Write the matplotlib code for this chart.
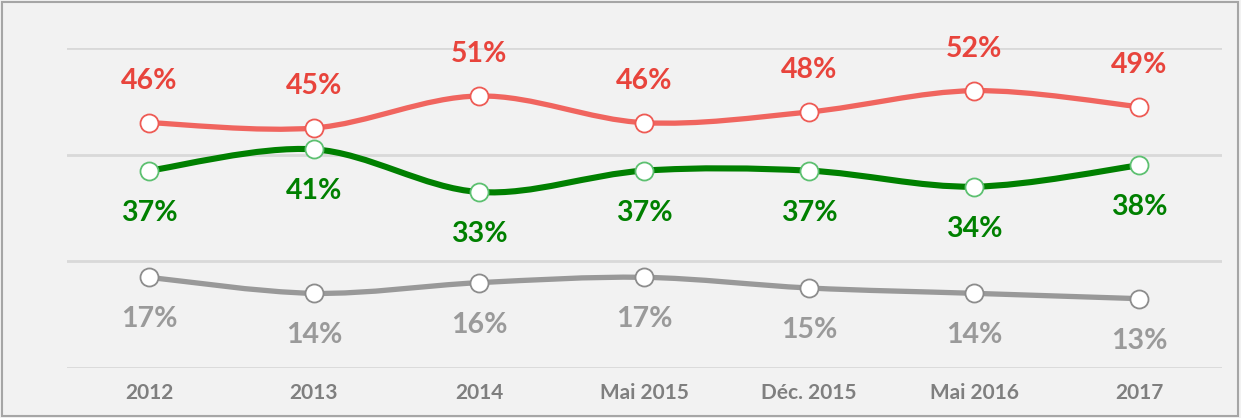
import numpy as np
import matplotlib.pyplot as plt
from matplotlib.path import Path
from matplotlib.patches import PathPatch, Rectangle

categories = ['2012', '2013', '2014', 'Mai 2015', 'Déc. 2015', 'Mai 2016', '2017']
red_vals = [46, 45, 51, 46, 48, 52, 49]
green_vals = [37, 41, 33, 37, 37, 34, 38]
gray_vals = [17, 14, 16, 17, 15, 14, 13]

plt.rcParams['font.family'] = ['Lato', 'DejaVu Sans']


def smooth_path(x, y):
    # cubic bezier through the points, like Excel's smoothed line
    pts = np.column_stack([x, y]).astype(float)
    n = len(pts)
    verts = [pts[0]]
    codes = [Path.MOVETO]
    for i in range(n - 1):
        p0 = pts[i - 1] if i > 0 else pts[i]
        p1 = pts[i]
        p2 = pts[i + 1]
        p3 = pts[i + 2] if i + 2 < n else pts[i + 1]
        c1 = p1 + (p2 - p0) / 6.0
        c2 = p2 - (p3 - p1) / 6.0
        verts += [c1, c2, p2]
        codes += [Path.CURVE4] * 3
    return Path(verts, codes)


fig = plt.figure(figsize=(12.41, 4.18), dpi=100)
fig.patch.set_facecolor('#f2f2f2')
ax = fig.add_axes([66.5 / 1241, 50 / 418, 1155 / 1241, 320 / 418])
ax.set_facecolor('#f2f2f2')

x = np.arange(len(categories))

series = [
    (red_vals, '#f0655f', '#ee5a54', '#e8443c', 1, 3.8),
    (green_vals, '#008000', '#5cc070', '#008000', -1, 4.4),
    (gray_vals, '#999999', '#8c8c8c', '#9a9a9a', -1, 3.8),
]

for vals, lc, mec, tc, side, lw in series:
    ax.add_patch(PathPatch(smooth_path(x, vals), facecolor='none', edgecolor=lc,
                           lw=lw, capstyle='round', zorder=3))
    ax.plot(x, vals, linestyle='none', marker='o', markersize=13,
            markerfacecolor='white', markeredgecolor=mec, markeredgewidth=1.3, zorder=4)
    for xi, v in zip(x, vals):
        ax.annotate(f'{v}%', (xi, v), xytext=(0, 42 * side), textcoords='offset pixels',
                    ha='center', va='center', fontsize=20.5, fontweight='bold', color=tc)

ax.set_xlim(-0.5, len(categories) - 0.5)
ax.set_ylim(0, 60)
ax.set_yticks([0, 20, 40, 60])
ax.yaxis.grid(True, color='#d9d9d9', lw=2)
ax.set_axisbelow(True)
ax.tick_params(axis='y', left=False, labelleft=False)
ax.set_xticks(x)
ax.set_xticklabels(categories, fontsize=15, fontweight='bold', color='#7f7f7f')
ax.tick_params(axis='x', length=0, pad=11)
for s in ax.spines.values():
    s.set_visible(False)

fig.patches.append(Rectangle((2 / 1241, 2 / 418), 1236 / 1241, 414 / 418,
                             transform=fig.transFigure, fill=False,
                             edgecolor='#a6a6a6', lw=1.5))

fig.savefig('out.png', dpi=100, facecolor=fig.get_facecolor())
